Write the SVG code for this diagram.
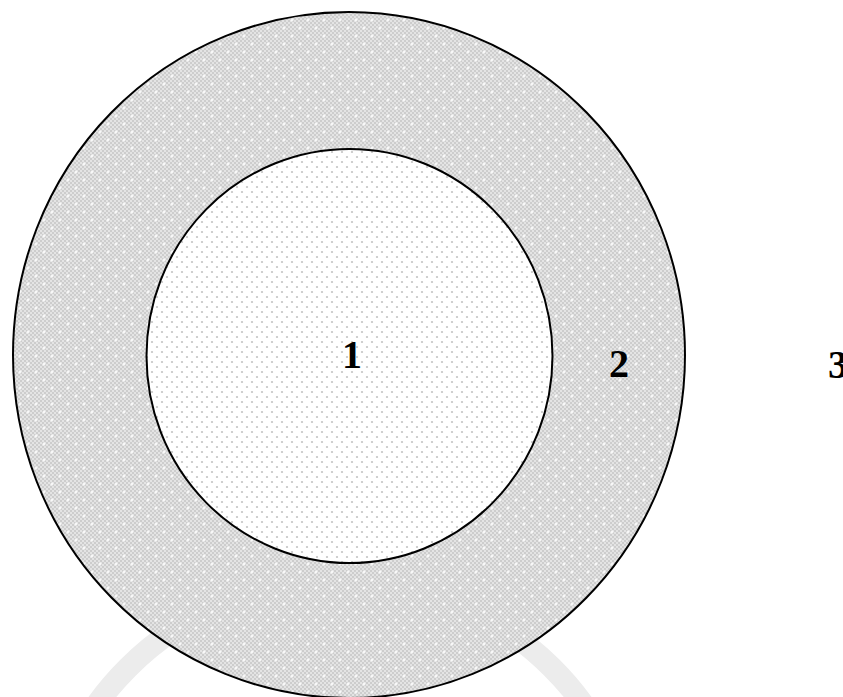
<svg xmlns="http://www.w3.org/2000/svg" width="843" height="697" viewBox="0 0 843 697">
<defs>
<pattern id="checker" width="4" height="4" patternUnits="userSpaceOnUse">
<rect width="4" height="4" fill="#e4e4e4"/>
<rect width="2" height="2" fill="#cdcdcd"/>
<rect x="2" y="2" width="2" height="2" fill="#cdcdcd"/>
</pattern>
<pattern id="outerPat" width="16" height="16" patternUnits="userSpaceOnUse">
<rect width="16" height="16" fill="url(#checker)"/>
<path d="M4 2.5v3M2.5 4h3M12 10.5v3M10.5 12h3" stroke="#ffffff" stroke-width="1.2"/>
</pattern>
<pattern id="innerPat" width="10" height="10" patternUnits="userSpaceOnUse">
<rect width="10" height="10" fill="#ffffff"/>
<circle cx="2" cy="2" r="1.1" fill="#c4c4c4"/>
<circle cx="7" cy="7" r="1.1" fill="#c4c4c4"/>
</pattern>
<style>
.ring{stroke:#000;stroke-width:2}
.lbl{font-family:"Liberation Serif","Times New Roman",serif;font-weight:bold;font-size:40px;fill:#000}
.wm{fill:none;stroke:#ececec;stroke-width:22}
</style>
</defs>
<rect width="843" height="697" fill="#ffffff"/>
<g id="watermark">
<circle class="wm" cx="340" cy="880" r="300"/>
</g>
<g id="outer">
<ellipse class="ring" cx="349" cy="355" rx="336" ry="343" fill="url(#outerPat)"/>
</g>
<g id="inner">
<ellipse class="ring" cx="349.5" cy="356" rx="203" ry="207" fill="url(#innerPat)"/>
</g>
<g id="labels">
<text class="lbl" x="352" y="368" text-anchor="middle">1</text>
<text class="lbl" x="619" y="377" text-anchor="middle">2</text>
<text class="lbl" x="828" y="378">3</text>
</g>
<g id="connectors"/>
</svg>
